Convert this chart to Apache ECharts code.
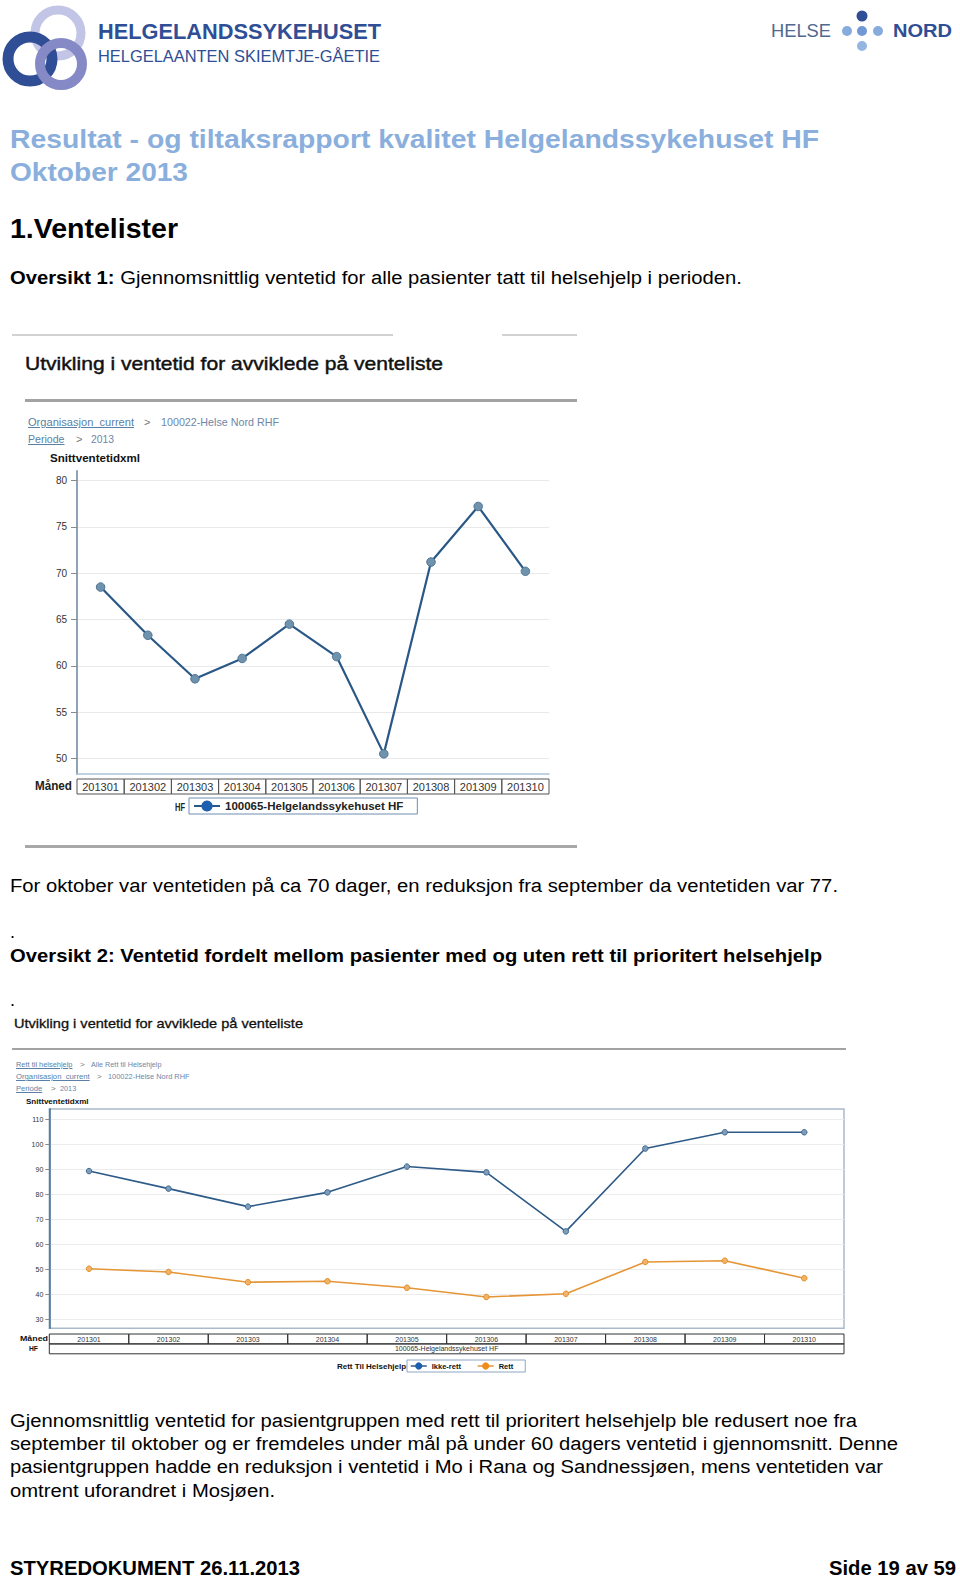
<!DOCTYPE html>
<html><head><meta charset="utf-8">
<script src="https://cdn.jsdelivr.net/npm/echarts@6/dist/echarts.min.js"></script>
<style>
body{margin:0;background:#fff}
#page{position:relative;width:960px;height:1579px;overflow:hidden;font-family:'Liberation Sans',Arial,sans-serif;background:#fff}
.t{position:absolute;white-space:nowrap;transform-origin:0 50%}
.r{position:absolute}
</style></head><body><div id="page">
<svg width="960" height="100" style="position:absolute;left:0;top:0">
  <circle cx="58" cy="33" r="23" fill="none" stroke="#c2c5e5" stroke-width="9"/>
  <circle cx="30" cy="59" r="22" fill="none" stroke="#2f4e96" stroke-width="11"/>
  <circle cx="61" cy="64" r="21" fill="none" stroke="#8589c5" stroke-width="10"/>
  <circle cx="862" cy="16" r="5.5" fill="#2f4e96"/>
  <circle cx="847" cy="31" r="5" fill="#86abdd"/>
  <circle cx="862" cy="31" r="5" fill="#6f98d4"/>
  <circle cx="878" cy="31" r="5" fill="#86abdd"/>
  <circle cx="862" cy="46" r="5" fill="#93b6e3"/>
</svg>
<div id="chart" style="position:absolute;left:0;top:0;width:960px;height:1579px"></div>
</div>
<script>
// ---------- data ----------
const months = ['201301','201302','201303','201304','201305','201306','201307','201308','201309','201310'];
const hfName = '100065-Helgelandssykehuset HF';
const hfAvg = [68.5, 63.3, 58.6, 60.8, 64.5, 61.0, 50.5, 71.2, 77.2, 70.2];
const ikkeRett = [89.2, 82.2, 75.0, 80.7, 91.0, 88.7, 65.1, 98.2, 104.7, 104.7];
const rett = [50.2, 48.9, 44.8, 45.2, 42.6, 38.9, 40.2, 52.9, 53.4, 46.4];
const yTicks1 = [50, 55, 60, 65, 70, 75, 80];
const yTicks2 = [30, 40, 50, 60, 70, 80, 90, 100, 110];
const hfRow = [hfName];
const seriesNames2 = ['Ikke-rett', 'Rett'];

// ---------- page text ----------
const page = document.getElementById('page');
const FF = "'Liberation Sans',Arial,sans-serif";
function T(x, yc, html, o) {
  o = o || {};
  const d = document.createElement('div');
  d.className = 't';
  const size = o.size || 18, lh = Math.round(size * 1.25);
  d.innerHTML = html;
  d.style.left = x + 'px';
  d.style.top = (yc - lh / 2) + 'px';
  d.style.lineHeight = lh + 'px';
  d.style.fontSize = size + 'px';
  d.style.fontWeight = o.bold ? 'bold' : 'normal';
  d.style.color = o.color || '#000';
  if (o.u) d.style.textDecoration = 'underline';
  if (o.stroke) d.style.webkitTextStroke = o.stroke + 'px ' + (o.color || '#000');
  page.appendChild(d);
  if (o.w) {
    const w = d.getBoundingClientRect().width;
    d.style.transform = 'scaleX(' + (o.w / w) + ')';
  }
  return d;
}
function R(x1, x2, y, h, c) {
  const d = document.createElement('div');
  d.className = 'r';
  d.style.cssText = `left:${x1}px;top:${y}px;width:${x2 - x1}px;height:${h}px;background:${c}`;
  page.appendChild(d);
}

// header
T(98, 32, 'HELGELANDSSYKEHUSET', {size: 22, bold: true, color: '#2f4e96', w: 283});
T(98, 56, 'HELGELAANTEN SKIEMTJE-GÅETIE', {size: 17, color: '#2f4e96', w: 282});
T(771, 31, 'HELSE', {size: 19, color: '#50698f', w: 60});
T(893, 31, 'NORD', {size: 19, bold: true, color: '#2f4e96', w: 59});

T(10, 139, 'Resultat - og tiltaksrapport kvalitet Helgelandssykehuset HF', {size: 26, bold: true, color: '#8aafdd', w: 809});
T(10, 172, 'Oktober 2013', {size: 26, bold: true, color: '#8aafdd', w: 178});
T(10, 228, '1.Ventelister', {size: 28, bold: true, w: 168});
T(10, 278, '<b>Oversikt 1:</b> Gjennomsnittlig ventetid for alle pasienter tatt til helsehjelp i perioden.', {size: 18, w: 732});

// chart 1 frame
R(12, 393, 334, 2, '#d2d2d2');
R(502, 577, 334, 2, '#d2d2d2');
T(25, 363.5, 'Utvikling i ventetid for avviklede på venteliste', {size: 19, color: '#111', stroke: 0.45, w: 418});
R(25, 577, 399, 3, '#a3a3a3');
T(28, 422, 'Organisasjon_current', {size: 11, color: '#5b7fa6', u: true, w: 106});
T(144, 422, '&gt;', {size: 11, color: '#777'});
T(161, 422, '100022-Helse Nord RHF', {size: 11, color: '#6d87a8', w: 118});
T(28, 439, 'Periode', {size: 11, color: '#5b7fa6', u: true, w: 36.5});
T(76, 439, '&gt;', {size: 11, color: '#777'});
T(91, 439, '2013', {size: 11, color: '#6d87a8', w: 23});
T(50, 458, 'Snittventetidxml', {size: 11, bold: true, color: '#111', w: 90});
T(35, 786.5, 'Måned', {size: 12, bold: true, color: '#222', w: 37});
T(175, 807, 'HF', {size: 11, bold: true, color: '#222', w: 10});
R(25, 577, 845, 3, '#a8a8a8');

T(10, 886, 'For oktober var ventetiden på ca 70 dager, en reduksjon fra september da ventetiden var 77.', {size: 18, w: 828});
T(10, 932, '.', {size: 18});
T(10, 956, '<b>Oversikt 2: Ventetid fordelt mellom pasienter med og uten rett til prioritert helsehjelp</b>', {size: 18, w: 812});
T(10, 1000.5, '.', {size: 18});

// chart 2 frame
T(14, 1024, 'Utvikling i ventetid for avviklede på venteliste', {size: 13, color: '#111', stroke: 0.3, w: 289});
R(12, 846, 1047.5, 2.5, '#a3a3a3');
T(16, 1065, 'Rett til helsehjelp', {size: 8, color: '#5b7fa6', u: true, w: 56.5});
T(80, 1065, '&gt;', {size: 8, color: '#777'});
T(90.7, 1065, 'Alle Rett til Helsehjelp', {size: 8, color: '#6d87a8', w: 70.5});
T(16, 1077, 'Organisasjon_current', {size: 8, color: '#5b7fa6', u: true, w: 73.7});
T(97, 1077, '&gt;', {size: 8, color: '#777'});
T(107.8, 1077, '100022-Helse Nord RHF', {size: 8, color: '#6d87a8', w: 81.6});
T(16, 1089, 'Periode', {size: 8, color: '#5b7fa6', u: true, w: 26.3});
T(51, 1089, '&gt;', {size: 8, color: '#777'});
T(60.4, 1089, '2013', {size: 8, color: '#6d87a8', w: 16.2});
T(26, 1102, 'Snittventetidxml', {size: 8, bold: true, color: '#111', w: 62.6});
T(20, 1339, 'Måned', {size: 8, bold: true, color: '#111', w: 28});
T(29, 1349, 'HF', {size: 8, bold: true, color: '#111', w: 9});
T(337, 1366.5, 'Rett Til Helsehjelp', {size: 8, bold: true, color: '#111', w: 69});

T(10, 1421, 'Gjennomsnittlig ventetid for pasientgruppen med rett til prioritert helsehjelp ble redusert noe fra', {size: 18, w: 847});
T(10, 1444, 'september til oktober og er fremdeles under mål på under 60 dagers ventetid i gjennomsnitt. Denne', {size: 18, w: 888});
T(10, 1467, 'pasientgruppen hadde en reduksjon i ventetid i Mo i Rana og Sandnessjøen, mens ventetiden var', {size: 18, w: 873});
T(10, 1491, 'omtrent uforandret i Mosjøen.', {size: 18, w: 265});

T(10, 1568, 'STYREDOKUMENT 26.11.2013', {size: 21, bold: true, w: 290});
T(829, 1568, 'Side 19 av 59', {size: 21, bold: true, w: 127});

// ---------- chart geometry ----------
const g1 = {left: 77, width: 472, top: 471, bottom: 774, yLo: 758.5, yHi: 480.5};
const g2 = {left: 49.3, width: 794.7, top: 1109, bottom: 1328.3, yLo: 1319.3, yHi: 1119};
function ext(g, ticks) {
  const lo = ticks[0], hi = ticks[ticks.length - 1];
  const ppu = (g.yLo - g.yHi) / (hi - lo);
  return {min: lo - (g.bottom - g.yLo) / ppu, max: hi + (g.yHi - g.top) / ppu};
}
const e1 = ext(g1, yTicks1), e2 = ext(g2, yTicks2);

const chart = echarts.init(document.getElementById('chart'), null, {renderer: 'svg'});
const cellLabel = (w, h, fs, col) => ({
  interval: 0, margin: 5, width: w, height: h, lineHeight: h, align: 'center', verticalAlign: 'top',
  borderWidth: 1, borderColor: col, color: '#333', fontSize: fs, fontFamily: FF, padding: 0, overflow: 'none'
});

chart.setOption({
  animation: false,
  textStyle: {fontFamily: FF},
  grid: [
    {left: g1.left, width: g1.width, top: g1.top, height: g1.bottom - g1.top, outerBoundsMode: 'none', containLabel: false},
    {left: g1.left, width: g1.width, top: g1.yHi, height: g1.yLo - g1.yHi, outerBoundsMode: 'none', containLabel: false},
    {left: g2.left, width: g2.width, top: g2.top, height: g2.bottom - g2.top, show: true, borderColor: '#a9b9ca', borderWidth: 1.5, outerBoundsMode: 'none', containLabel: false},
    {left: g2.left, width: g2.width, top: g2.yHi, height: g2.yLo - g2.yHi, outerBoundsMode: 'none', containLabel: false}
  ],
  xAxis: [
    {gridIndex: 0, type: 'category', data: months, axisLine: {lineStyle: {color: '#a9c3dc', width: 1.5}}, axisTick: {show: false},
     axisLabel: cellLabel(g1.width / months.length, 15, 11, '#555'), splitLine: {show: false}},
    {gridIndex: 1, type: 'category', data: months, show: false},
    {gridIndex: 2, type: 'category', data: months, axisLine: {show: false}, axisTick: {show: false},
     axisLabel: Object.assign(cellLabel(g2.width / months.length, 10, 7, '#333'), {margin: 5.7}), splitLine: {show: false}},
    {gridIndex: 2, type: 'category', data: hfRow, position: 'bottom', offset: 9.8, axisLine: {show: false}, axisTick: {show: false},
     axisLabel: Object.assign(cellLabel(g2.width, 10, 7, '#333'), {margin: 5.7}), splitLine: {show: false}},
    {gridIndex: 3, type: 'category', data: months, show: false}
  ],
  yAxis: [
    {gridIndex: 0, type: 'value', min: e1.min, max: e1.max, axisLine: {show: true, lineStyle: {color: '#8ea3b8', width: 2}},
     axisTick: {show: false}, axisLabel: {show: false}, splitLine: {show: false}},
    {gridIndex: 1, type: 'value', min: yTicks1[0], max: yTicks1[yTicks1.length - 1], interval: yTicks1[1] - yTicks1[0],
     axisLine: {show: false}, axisTick: {show: true, length: 6, lineStyle: {color: '#8a8a8a'}},
     axisLabel: {margin: 10, fontSize: 10, color: '#333', fontFamily: FF},
     splitLine: {lineStyle: {color: '#e9e9e9', width: 1}}},
    {gridIndex: 2, type: 'value', min: e2.min, max: e2.max, axisLine: {show: true, lineStyle: {color: '#3d6a96', width: 1.5}},
     axisTick: {show: false}, axisLabel: {show: false}, splitLine: {show: false}},
    {gridIndex: 3, type: 'value', min: yTicks2[0], max: yTicks2[yTicks2.length - 1], interval: yTicks2[1] - yTicks2[0],
     axisLine: {show: false}, axisTick: {show: true, length: 4, lineStyle: {color: '#8a8a8a'}},
     axisLabel: {margin: 6, fontSize: 7, color: '#333', fontFamily: FF},
     splitLine: {lineStyle: {color: '#ececec', width: 1}}}
  ],
  legend: [
    {data: [{name: hfName, itemStyle: {color: '#1c5fae', borderWidth: 0}, lineStyle: {color: '#2a5886', width: 2}}],
     left: 189, top: 798, padding: [2, 14, 2, 4], itemWidth: 26, itemHeight: 14, itemGap: 0,
     borderColor: '#6f8db0', borderWidth: 1, textStyle: {fontSize: 11.5, fontWeight: 'bold', color: '#222', fontFamily: FF}},
    {data: [{name: seriesNames2[0], itemStyle: {color: '#1c5fae', borderWidth: 0}, lineStyle: {color: '#2d5a87', width: 1.5}},
            {name: seriesNames2[1], itemStyle: {color: '#f08c1a', borderWidth: 0}, lineStyle: {color: '#e59536', width: 1.5}}],
     left: 407, top: 1360, padding: [2, 12, 2, 3], itemWidth: 16, itemHeight: 9, itemGap: 16,
     borderColor: '#8ea6c0', borderWidth: 1, textStyle: {fontSize: 7.5, fontWeight: 'bold', color: '#111', fontFamily: FF}}
  ],
  series: [
    {type: 'line', name: hfName, xAxisIndex: 0, yAxisIndex: 0, data: hfAvg, symbol: 'circle', symbolSize: 8.5,
     lineStyle: {color: '#2a5886', width: 2.2}, itemStyle: {color: '#7093ad', borderColor: '#4d7394', borderWidth: 1}, z: 5},
    {type: 'line', name: seriesNames2[0], xAxisIndex: 2, yAxisIndex: 2, data: ikkeRett, symbol: 'circle', symbolSize: 5.5,
     lineStyle: {color: '#2d5a87', width: 1.6}, itemStyle: {color: '#7f9cb8', borderColor: '#3f6890', borderWidth: 1}, z: 5},
    {type: 'line', name: seriesNames2[1], xAxisIndex: 2, yAxisIndex: 2, data: rett, symbol: 'circle', symbolSize: 5.5,
     lineStyle: {color: '#e59536', width: 1.6}, itemStyle: {color: '#f3b366', borderColor: '#e08c28', borderWidth: 1}, z: 5}
  ]
});
</script>
</body></html>
